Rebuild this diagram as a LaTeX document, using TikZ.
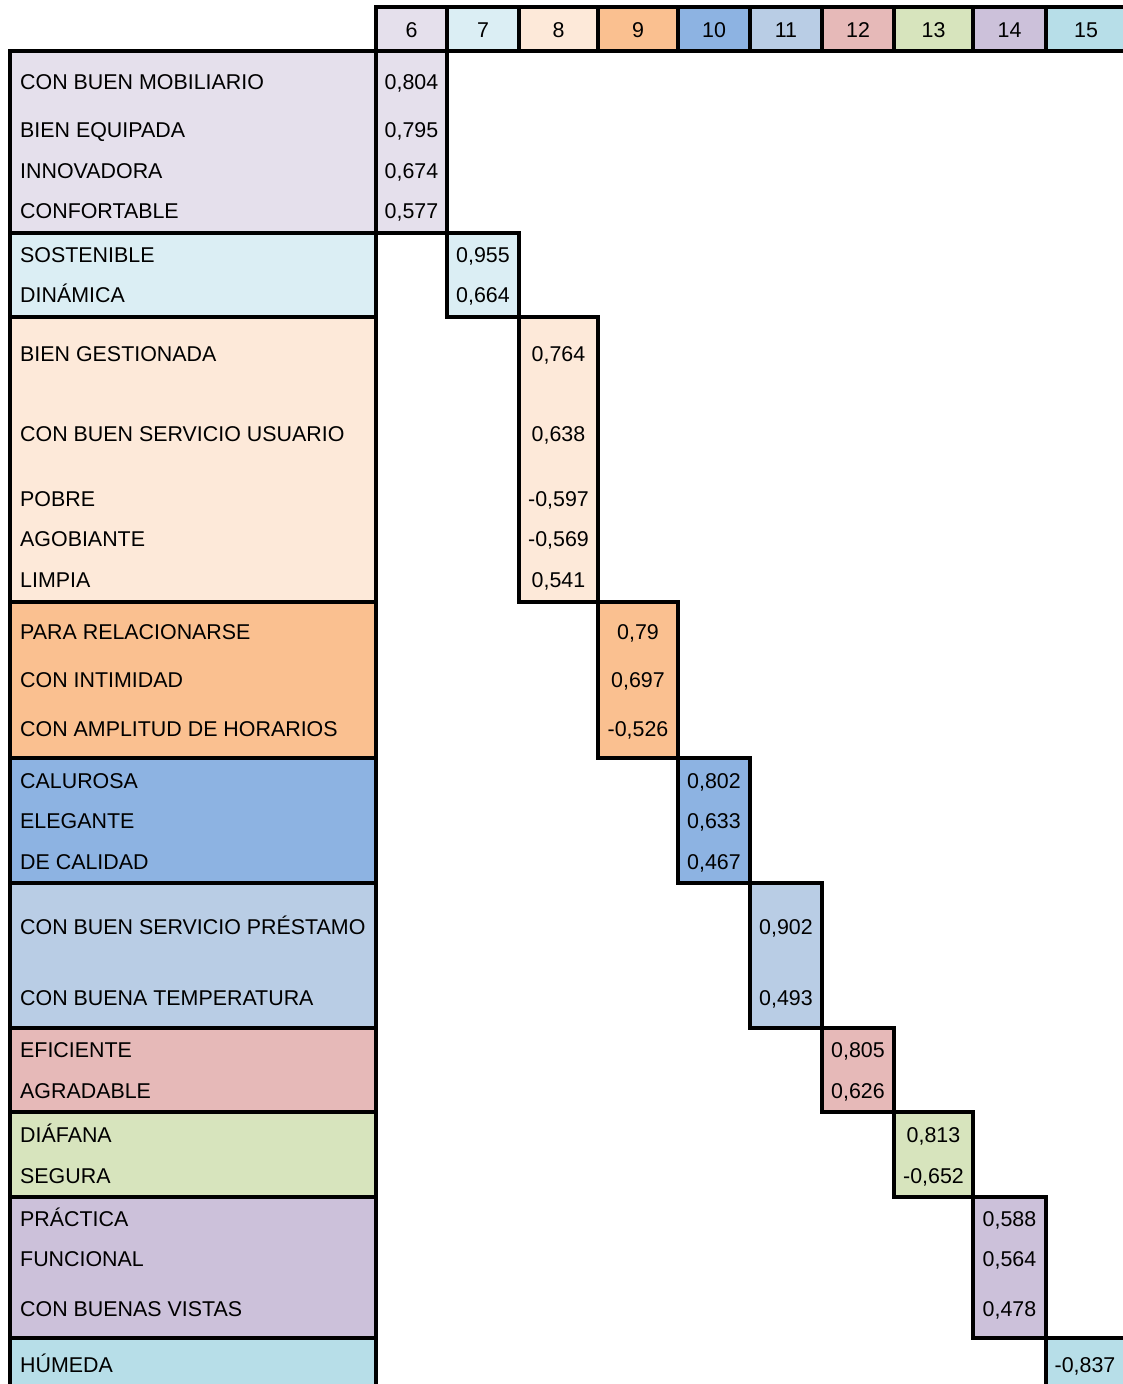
\documentclass[tikz,border=0pt]{standalone}
\usepackage{fontspec}
\setmainfont{Liberation Sans}
\usepackage{tikz}
\usetikzlibrary{positioning, calc}
\definecolor{fsix}{HTML}{E5E0EC}
\definecolor{fseven}{HTML}{DBEEF4}
\definecolor{feight}{HTML}{FDE9D9}
\definecolor{fnine}{HTML}{FAC090}
\definecolor{ften}{HTML}{8DB3E2}
\definecolor{feleven}{HTML}{B9CDE5}
\definecolor{ftwelve}{HTML}{E6B9B8}
\definecolor{fthirteen}{HTML}{D7E4BD}
\definecolor{ffourteen}{HTML}{CCC1DA}
\definecolor{ffifteen}{HTML}{B7DEE8}

% one factor block: label box plus its value cell
\newcommand{\factorbox}[5]{%
  \draw[box, fill=#5] (10,#3) rectangle (376,#4);
  \draw[box, fill=#5] (#1,#3) rectangle (#2,#4);}

\begin{document}
\begin{tikzpicture}[x=1pt, y=-1pt,
    box/.style={draw=black, line width=3.3pt},
    lbl/.style={anchor=west, inner sep=0pt, text height=15pt, text depth=0pt,
                font=\fontsize{21.4}{25}\selectfont},
    val/.style={anchor=center, inner sep=0pt, text height=15pt, text depth=0pt,
                font=\fontsize{21.4}{25}\selectfont}]
    \useasboundingbox (0,0) rectangle (1122,1384);

    % header row
    \foreach \n/\a/\b/\c in {6/376/447/fsix, 7/447/519/fseven, 8/519/598/feight,
        9/598/678/fnine, 10/678/750/ften, 11/750/822/feleven, 12/822/894/ftwelve,
        13/894/973/fthirteen, 14/973/1046/ffourteen, 15/1046/1126/ffifteen} {
        \draw[box, fill=\c] (\a,7) rectangle (\b,51);
        \node[val] (h\n) at ({(\a+\b)/2},30) {\n};
    }
    \draw[box] (10,51) -- (1126,51);

    % factor blocks
    \factorbox{376}{447}{51}{233}{fsix}
    \factorbox{447}{519}{233}{317}{fseven}
    \factorbox{519}{598}{317}{602}{feight}
    \factorbox{598}{678}{602}{758}{fnine}
    \factorbox{678}{750}{758}{883}{ften}
    \factorbox{750}{822}{883}{1028}{feleven}
    \factorbox{822}{894}{1028}{1112}{ftwelve}
    \factorbox{894}{973}{1112}{1197}{fthirteen}
    \factorbox{973}{1046}{1197}{1338}{ffourteen}
    \factorbox{1046}{1126}{1338}{1392}{ffifteen}

    % rows: y / label / loading / column centre / factor
    \foreach \y/\t/\v/\x/\f [count=\i] in {
        82/CON BUEN MOBILIARIO/{0,804}/411.5/6,
        130/BIEN EQUIPADA/{0,795}/411.5/6,
        171/INNOVADORA/{0,674}/411.5/6,
        211/CONFORTABLE/{0,577}/411.5/6,
        255/SOSTENIBLE/{0,955}/483/7,
        295/DINÁMICA/{0,664}/483/7,
        354/BIEN GESTIONADA/{0,764}/558.5/8,
        434/CON BUEN SERVICIO USUARIO/{0,638}/558.5/8,
        499/POBRE/{-0,597}/558.5/8,
        539/AGOBIANTE/{-0,569}/558.5/8,
        580/LIMPIA/{0,541}/558.5/8,
        632/PARA RELACIONARSE/{0,79}/638/9,
        680/CON INTIMIDAD/{0,697}/638/9,
        729/CON AMPLITUD DE HORARIOS/{-0,526}/638/9,
        781/CALUROSA/{0,802}/714/10,
        821/ELEGANTE/{0,633}/714/10,
        862/DE CALIDAD/{0,467}/714/10,
        927/CON BUEN SERVICIO PRÉSTAMO/{0,902}/786/11,
        998/CON BUENA TEMPERATURA/{0,493}/786/11,
        1050/EFICIENTE/{0,805}/858/12,
        1091/AGRADABLE/{0,626}/858/12,
        1135/DIÁFANA/{0,813}/933.5/13,
        1176/SEGURA/{-0,652}/933.5/13,
        1219/PRÁCTICA/{0,588}/1009.5/14,
        1259/FUNCIONAL/{0,564}/1009.5/14,
        1309/CON BUENAS VISTAS/{0,478}/1009.5/14,
        1365/HÚMEDA/{-0,837}/1085/15} {
        \node[lbl] (l\i) at (20,\y) {\t};
        \node[val] (v\i) at (\x,\y) {\v};
    }
\end{tikzpicture}
\end{document}
